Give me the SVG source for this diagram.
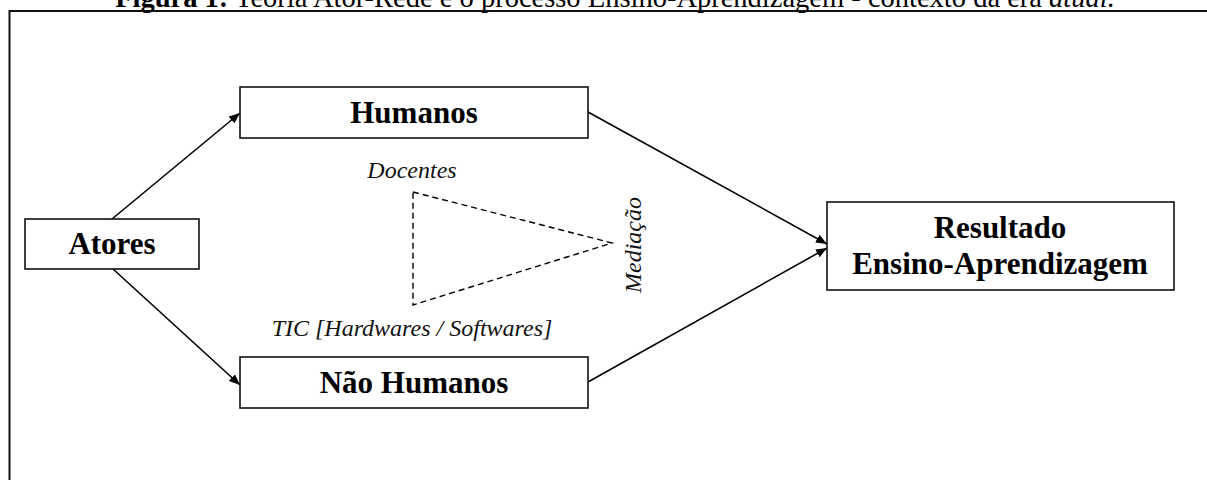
<svg xmlns="http://www.w3.org/2000/svg" width="1207" height="480" viewBox="0 0 1207 480">
<defs>
<style>
.box{fill:#fff;stroke:#111;stroke-width:1.6}
.lbl{font-family:"Liberation Serif","Times New Roman",serif;font-size:31px;font-weight:bold;fill:#000;text-anchor:middle}
.it{font-family:"Liberation Serif","Times New Roman",serif;font-size:24px;font-style:italic;fill:#111;text-anchor:middle}
.edge{stroke:#000;stroke-width:1.6;fill:none;marker-end:url(#ah)}
.dash{stroke:#000;stroke-width:1.4;fill:none;stroke-dasharray:6 4}
</style>
<marker id="ah" viewBox="0 0 10 10" refX="10" refY="5" markerWidth="11" markerHeight="9" markerUnits="userSpaceOnUse" orient="auto" preserveAspectRatio="none">
<path d="M0,0 L10,5 L0,10 z" fill="#000"/>
</marker>
</defs>
<rect width="1207" height="480" fill="#fff"/>
<text x="615" y="7" font-family="'Liberation Serif','Times New Roman',serif" font-size="28.5" text-anchor="middle" fill="#000"><tspan font-weight="bold">Figura 1:</tspan> Teoria Ator-Rede e o processo Ensino-Aprendizagem - contexto da era <tspan font-style="italic">atual.</tspan></text>
<path d="M9.5,495 V11 H1220" fill="none" stroke="#111" stroke-width="2"/>
<g id="connectors">
<line class="edge" x1="112" y1="219" x2="240" y2="113"/>
<line class="edge" x1="113" y1="269" x2="240" y2="385"/>
<line class="edge" x1="588" y1="112" x2="827" y2="244"/>
<line class="edge" x1="588" y1="382" x2="827" y2="248"/>
</g>
<g id="mediacao">
<path class="dash" d="M413,192 L612,243 L413,305 Z"/>
<text class="it" x="412" y="178">Docentes</text>
<text class="it" x="412" y="336">TIC [Hardwares / Softwares]</text>
<text class="it" transform="translate(641,245) rotate(-90)">Mediação</text>
</g>
<g id="atores">
<rect class="box" x="25" y="219" width="174" height="50"/>
<text class="lbl" x="112" y="254">Atores</text>
</g>
<g id="humanos">
<rect class="box" x="240" y="87" width="348" height="51"/>
<text class="lbl" x="414" y="123">Humanos</text>
</g>
<g id="nao-humanos">
<rect class="box" x="240" y="357" width="348" height="51"/>
<text class="lbl" x="414" y="393">Não Humanos</text>
</g>
<g id="resultado">
<rect class="box" x="827" y="202" width="347" height="88"/>
<text class="lbl" x="1000" y="238">Resultado</text>
<text class="lbl" x="1000" y="274">Ensino-Aprendizagem</text>
</g>
</svg>
